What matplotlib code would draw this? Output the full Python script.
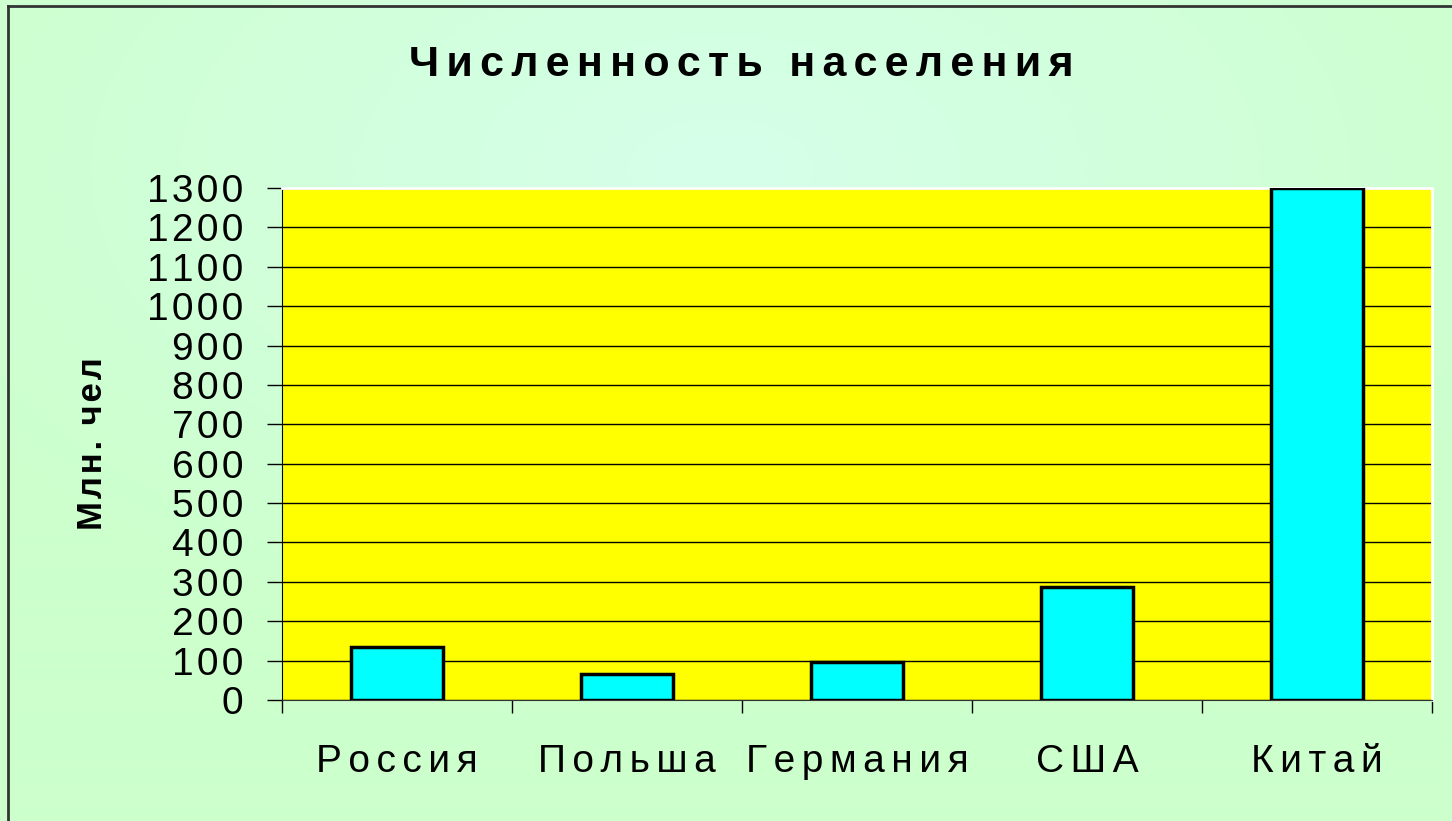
import numpy as np
import matplotlib
matplotlib.use('Agg')
import matplotlib.pyplot as plt
from matplotlib.lines import Line2D
from matplotlib.colors import LinearSegmentedColormap

# data
countries = ['Россия', 'Польша', 'Германия', 'США', 'Китай']
population = [134, 66, 97, 288, 1300]
yticks = list(range(0, 1301, 100))

plt.rcParams['font.family'] = ['Liberation Sans', 'DejaVu Sans']

HAIR = '\u200a'


def spaced(s, n=1):
    # the original chart has wide letter spacing
    return (HAIR * n).join(s)


fig = plt.figure(figsize=(14.52, 8.21), dpi=100)

# light green background, a bit lighter near the top middle
bg = fig.add_axes([0, 0, 1, 1], zorder=-10)
yy, xx = np.mgrid[0:821, 0:1452]
r = np.sqrt(((xx - 720) / 900.0) ** 2 + ((yy - 170) / 500.0) ** 2)
r = np.clip(r, 0, 1)
cmap = LinearSegmentedColormap.from_list('bg', ['#D6FFEA', '#CCFFCC'])
bg.imshow(r, cmap=cmap, aspect='auto', extent=[0, 1, 0, 1], origin='upper')
bg.set_axis_off()

# border, only top and left are visible
fig.add_artist(Line2D([8 / 1452, 1], [1 - 6 / 821, 1 - 6 / 821], color='#333333', lw=2))
fig.add_artist(Line2D([8 / 1452, 8 / 1452], [0, 1 - 6 / 821], color='#333333', lw=2))

ax = fig.add_axes([282 / 1452, 1 - 700 / 821, 1150 / 1452, 512 / 821])
ax.set_facecolor('#FFFF00')

x = np.arange(len(countries))
ax.bar(x, population, width=0.4, color='#00FFFF', edgecolor='black', linewidth=2.5, zorder=3)

ax.set_xlim(-0.5, len(countries) - 0.5)
ax.set_ylim(0, 1300)
ax.set_yticks(yticks)
ax.set_yticklabels([spaced(str(v)) for v in yticks], fontsize=28)
ax.yaxis.grid(True, color='black', linewidth=1)
ax.set_axisbelow(True)

ax.set_xticks(x)
ax.set_xticklabels([spaced(c, 2) for c in countries], fontsize=28)
ax.set_xticks(np.arange(-0.5, len(countries)), minor=True)
ax.tick_params(axis='x', which='major', length=0, pad=32)
ax.tick_params(axis='x', which='minor', length=9, width=1, direction='out')
ax.tick_params(axis='y', length=11, width=1, pad=17)

for s in ['top', 'right']:
    ax.spines[s].set_color('white')
    ax.spines[s].set_linewidth(2)
ax.spines['left'].set_color('black')
ax.spines['bottom'].set_color('#333333')

ax.set_ylabel(spaced('Млн. чел'), fontsize=25, fontweight='bold', labelpad=27)

fig.text(741 / 1452, 1 - 65 / 821, spaced('Численность населения', 2), ha='center', va='center',
         fontsize=31, fontweight='bold')

fig.savefig('out.png', dpi=100)
